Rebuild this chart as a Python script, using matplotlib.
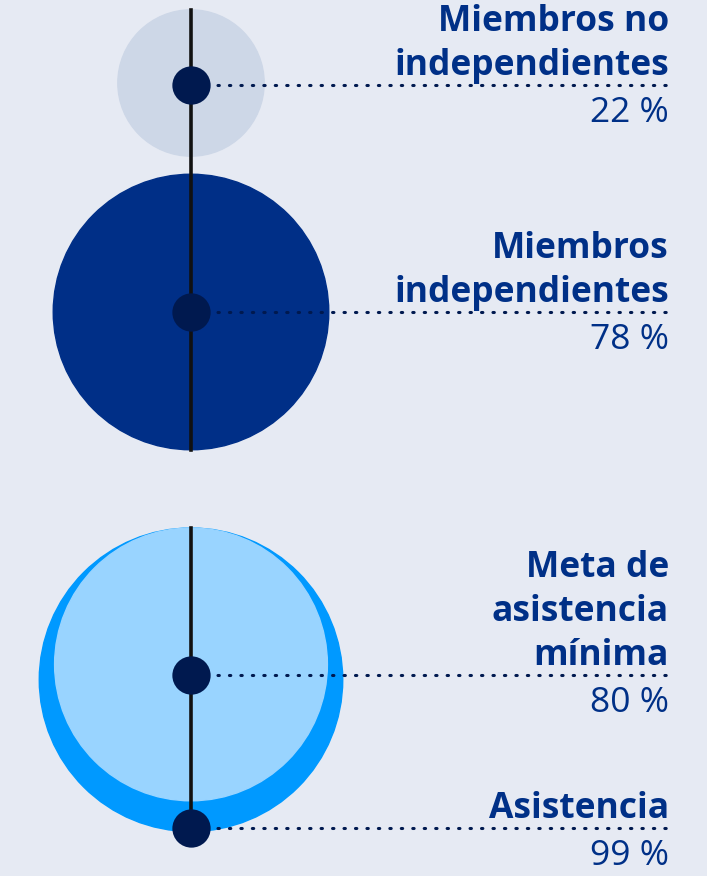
import numpy as np
import matplotlib.pyplot as plt
from matplotlib.patches import Circle

plt.rcParams['font.family'] = ['Open Sans', 'DejaVu Sans']

# data
labels = ["Miembros no\nindependientes", "Miembros\nindependientes",
          "Meta de\nasistencia\nmínima", "Asistencia"]
values = [22, 78, 80, 99]
circle_colors = ["#cdd7e7", "#002f87", "#99d4ff", "#0099ff"]

bg = "#e6eaf3"
navy = "#003087"
dot_c = "#00194f"

fig = plt.figure(figsize=(7.07, 8.76), dpi=100, facecolor=bg)
ax = fig.add_axes([0, 0, 1, 1])
ax.set_facecolor(bg)
ax.set_xlim(0, 707)
ax.set_ylim(876, 0)
ax.set_aspect('equal')
ax.axis('off')

cx = 191
k_top = 15.6
k_bot = 15.25
r = [k_top * np.sqrt(values[0]), k_top * np.sqrt(values[1]),
     k_bot * np.sqrt(values[2]), k_bot * np.sqrt(values[3])]

# top group: two separate circles
ax.add_patch(Circle((cx, 83), r[0], color=circle_colors[0], zorder=1))
ax.add_patch(Circle((cx, 312), r[1], color=circle_colors[1], zorder=1))
# bottom group: both circles share the top edge
top_edge = 528
ax.add_patch(Circle((cx, top_edge + r[3]), r[3], color=circle_colors[3], zorder=1))
ax.add_patch(Circle((cx, top_edge + r[2]), r[2], color=circle_colors[2], zorder=2))

# vertical lines
ax.plot([cx, cx], [10, 450], color="#111111", lw=2.6, zorder=3)
ax.plot([cx, cx], [top_edge, 830], color="#111111", lw=2.6, zorder=3)

dot_y = [85, 312, 675, 828]
x_end = 670
for lab, val, y in zip(labels, values, dot_y):
    ax.plot([cx + 15, x_end], [y, y], color=dot_c, lw=2.2,
            linestyle=(0, (0.45, 3.3)), dash_capstyle='round', zorder=3)
    ax.scatter([cx], [y], s=760, color=dot_c, zorder=4, linewidths=0)
    lines = lab.split("\n")
    for i, ln in enumerate(reversed(lines)):
        ax.text(669, y - 10 - i * 44, ln, ha='right', va='baseline',
                fontsize=25.5, fontweight='bold', color=navy)
    ax.text(669, y + 37, f"{val} %", ha='right', va='baseline',
            fontsize=25.5, color=navy)

fig.savefig("out.png", dpi=100, facecolor=bg)
